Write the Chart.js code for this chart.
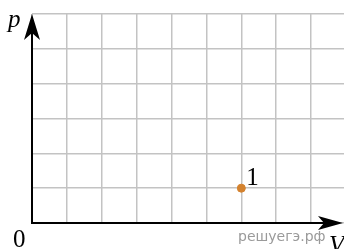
<!DOCTYPE html>
<html>
<head>
<meta charset="utf-8">
<script src="https://cdn.jsdelivr.net/npm/chart.js@4"></script>
<style>
  html, body { margin: 0; padding: 0; background: #fff; overflow: hidden; }
  canvas { display: block; }
</style>
</head>
<body>
<!-- el lienzo es más ancho que la ventana: la última columna de la rejilla queda cortada -->
<canvas id="pv" width="351" height="249"></canvas>
<script>
// Datos del gráfico
const pointX = [6];
const pointY = [1];
const pointLabels = ['1'];
const xRange = [0, 9];
const yRange = [0, 6];
const axisLabels = { x: 'V', y: 'p', origin: '0' };
const watermark = 'решуегэ.рф';

// Ejes con flechas y textos
const axesPlugin = {
  id: 'axesPlugin',
  afterDatasetsDraw(chart) {
    const { ctx, scales } = chart;
    const x0 = scales.x.getPixelForValue(0);
    const y0 = scales.y.getPixelForValue(0);
    const yTop = scales.y.getPixelForValue(yRange[1]);
    const xEnd = 343;

    ctx.save();
    ctx.strokeStyle = '#000';
    ctx.fillStyle = '#000';
    ctx.lineWidth = 2;
    ctx.beginPath();
    ctx.moveTo(x0, y0);
    ctx.lineTo(x0, yTop + 10);
    ctx.moveTo(x0 - 1, y0);
    ctx.lineTo(xEnd - 10, y0);
    ctx.stroke();

    // flecha vertical
    ctx.beginPath();
    ctx.moveTo(x0, yTop);
    ctx.lineTo(x0 - 8, yTop + 26);
    ctx.lineTo(x0, yTop + 19);
    ctx.lineTo(x0 + 8, yTop + 26);
    ctx.closePath();
    ctx.fill();

    // flecha horizontal
    ctx.beginPath();
    ctx.moveTo(xEnd, y0);
    ctx.lineTo(xEnd - 25, y0 - 7);
    ctx.lineTo(xEnd - 19, y0);
    ctx.lineTo(xEnd - 25, y0 + 7);
    ctx.closePath();
    ctx.fill();

    ctx.font = 'italic 25px "Liberation Serif", "DejaVu Serif", serif';
    ctx.textBaseline = 'alphabetic';
    ctx.fillText(axisLabels.y, 8, 27);
    ctx.fillText(axisLabels.x, 329, 253);

    ctx.font = '25px "Liberation Serif", "DejaVu Serif", serif';
    ctx.fillText(axisLabels.origin, 13, 247);

    pointX.forEach((v, i) => {
      const px = scales.x.getPixelForValue(v);
      const py = scales.y.getPixelForValue(pointY[i]);
      ctx.fillText(pointLabels[i], px + 5, py - 3);
    });

    ctx.font = '14px "DejaVu Sans", sans-serif';
    ctx.fillStyle = '#9a9a9a';
    ctx.fillText(watermark, 238, 241);
    ctx.restore();
  }
};

new Chart(document.getElementById('pv'), {
  type: 'scatter',
  data: {
    datasets: [{
      data: pointX.map((x, i) => ({ x, y: pointY[i] })),
      backgroundColor: '#d4822e',
      borderColor: '#d4822e',
      pointRadius: 4,
      pointHoverRadius: 4
    }]
  },
  options: {
    responsive: false,
    animation: false,
    events: [],
    layout: { padding: { left: 32, top: 14, bottom: 26, right: 0 } },
    plugins: { legend: { display: false }, tooltip: { enabled: false } },
    scales: {
      x: {
        type: 'linear',
        min: xRange[0],
        max: xRange[1],
        ticks: { display: false, stepSize: 1 },
        border: { display: false },
        grid: { color: '#c3c3c3', lineWidth: 1.5, drawTicks: false }
      },
      y: {
        type: 'linear',
        min: yRange[0],
        max: yRange[1],
        ticks: { display: false, stepSize: 1 },
        border: { display: false },
        grid: { color: '#c3c3c3', lineWidth: 1.5, drawTicks: false }
      }
    }
  },
  plugins: [axesPlugin]
});
</script>
</body>
</html>
